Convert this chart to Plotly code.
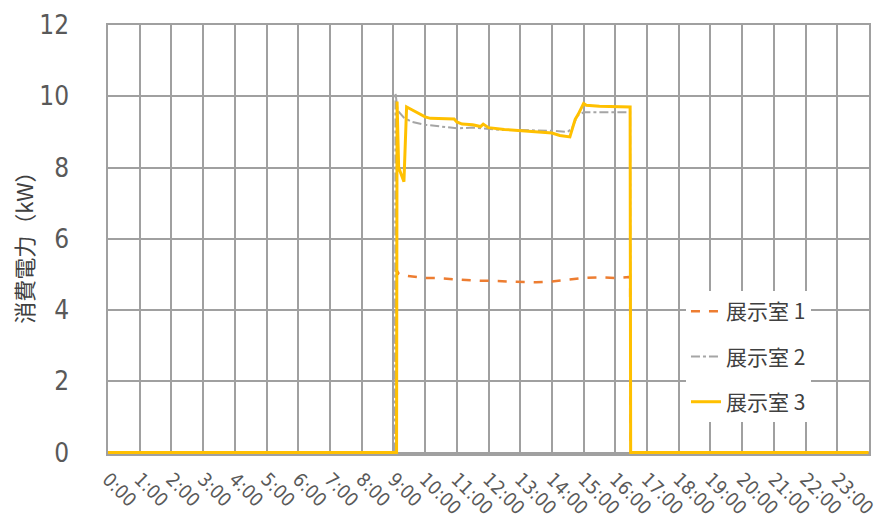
import plotly.graph_objects as go

# Hourly tick labels for the 24h axis
hour_labels = [f"{h}:00" for h in range(24)]
y_ticks = [0, 2, 4, 6, 8, 10, 12]

# 展示室1 (kW)
room1_time = ["0:00", "9:04", "9:05", "9:10", "9:15", "9:30", "9:45", "10:00", "10:20",
              "10:40", "11:00", "11:30", "12:00", "12:30", "13:00", "13:30", "14:00",
              "14:30", "15:00", "15:30", "16:00", "16:28", "16:29", "23:59"]
room1_kw = [0, 0, 5.15, 5.02, 4.98, 4.95, 4.92, 4.9, 4.9,
            4.88, 4.85, 4.83, 4.82, 4.8, 4.78, 4.78, 4.8,
            4.85, 4.9, 4.92, 4.9, 4.93, 0, 0]

# 展示室2 (kW)
room2_time = ["0:00", "9:03", "9:04", "9:08", "9:20", "9:35", "10:00", "10:30", "11:00",
              "11:30", "12:00", "12:30", "13:00", "13:30", "14:00", "14:30", "14:38",
              "14:48", "15:00", "15:30", "16:00", "16:28", "16:29", "23:59"]
room2_kw = [0, 0, 10.1, 9.6, 9.4, 9.28, 9.2, 9.15, 9.1,
            9.12, 9.08, 9.05, 9.05, 9.05, 9.03, 9.0, 9.1,
            9.45, 9.55, 9.55, 9.55, 9.55, 0, 0]

# 展示室3 (kW)
room3_time = ["0:00", "9:06", "9:07", "9:10", "9:20", "9:25", "9:35", "9:50", "10:00",
              "10:10", "10:30", "10:55", "11:00", "11:10", "11:30", "11:45", "11:50",
              "12:00", "12:30", "13:00", "13:30", "14:00", "14:15", "14:34", "14:44",
              "14:50", "15:00", "15:05", "15:30", "16:00", "16:28", "16:29", "23:59"]
room3_kw = [0, 0, 9.85, 8.0, 7.6, 9.7, 9.62, 9.5, 9.42,
            9.38, 9.37, 9.36, 9.28, 9.22, 9.2, 9.15, 9.22,
            9.12, 9.07, 9.03, 9.0, 8.97, 8.9, 8.86, 9.35,
            9.5, 9.8, 9.75, 9.72, 9.72, 9.7, 0, 0]


def to_hours(stamps):
    out = []
    for s in stamps:
        h, m = s.split(":")
        out.append(int(h) + int(m) / 60)
    return out


grid_color = "#a0a0a0"
label_font = "Liberation Sans Narrow, Arial Narrow, DejaVu Sans Condensed, sans-serif"
cjk_font = "Noto Sans CJK JP, sans-serif"

fig = go.Figure()
fig.add_trace(go.Scatter(
    x=to_hours(room1_time), y=room1_kw, mode="lines", name="展示室 1",
    legendgroup="r1", line=dict(color="#ED7D31", width=2.5, dash="dash"),
))
fig.add_trace(go.Scatter(
    x=to_hours(room2_time), y=room2_kw, mode="lines", name="展示室 2",
    legendgroup="r2", line=dict(color="#A5A5A5", width=2, dash="dashdot"),
))
fig.add_trace(go.Scatter(
    x=to_hours(room3_time), y=room3_kw, mode="lines", name="展示室 3",
    legendgroup="r3", line=dict(color="#FFC000", width=3),
))

fig.update_layout(
    width=888, height=522,
    margin=dict(l=108, r=19, t=25, b=68, autoexpand=False),
    paper_bgcolor="white", plot_bgcolor="white",
    showlegend=True,
    legend=dict(
        x=0.7595, y=0.38, xanchor="left", yanchor="top",
        bgcolor="white", borderwidth=0,
        font=dict(family=cjk_font, size=21, color="#404040"),
        tracegroupgap=15, itemwidth=30,
    ),
    xaxis=dict(
        range=[0, 24], tickmode="array", tickvals=list(range(24)), ticktext=hour_labels,
        tickangle=45, showgrid=True, gridcolor=grid_color, gridwidth=1.5,
        zeroline=False, showline=True, linecolor=grid_color, linewidth=1.5, mirror=True,
        ticks="", tickfont=dict(family=label_font, size=19, color="#595959"),
        ticklabelstandoff=5, automargin=False,
    ),
    yaxis=dict(
        range=[-0.04, 12], tickmode="array", tickvals=y_ticks,
        showgrid=True, gridcolor=grid_color, gridwidth=1.5,
        zeroline=False, showline=True, linecolor=grid_color, linewidth=1.5, mirror=True,
        ticks="", tickfont=dict(family=label_font, size=26, color="#595959"),
        ticklabelstandoff=32, automargin=False,
    ),
    annotations=[dict(
        text="消費電力（kW）", xref="paper", yref="paper", x=-0.112, y=0.494,
        textangle=-90, showarrow=False, xanchor="center", yanchor="middle",
        font=dict(family=cjk_font, size=22, color="#404040"),
    )],
)

fig.write_html("out.html")
